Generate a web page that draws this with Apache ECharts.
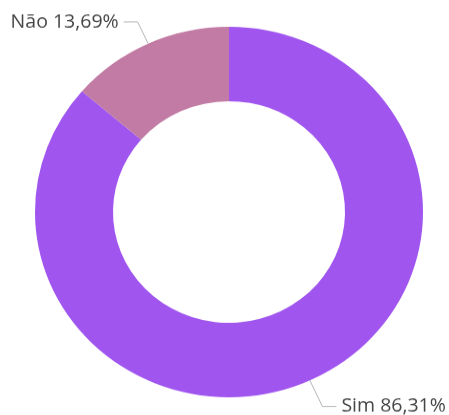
<!DOCTYPE html>
<html>
<head>
<meta charset="utf-8">
<script src="https://cdn.jsdelivr.net/npm/echarts@6/dist/echarts.min.js"></script>
<style>
  html, body { margin: 0; padding: 0; background: #ffffff; overflow: hidden; }
  #wrap { width: 449px; height: 415px; overflow: hidden; }
  /* the drawing is slightly flattened vertically */
  #chart { width: 449px; height: 435px; transform: scaleY(0.955); transform-origin: 0 0; }
</style>
</head>
<body>
<div id="wrap"><div id="chart"></div></div>
<script>
// Answer categories and their shares (%)
const categories = ['Sim', 'Não'];
const shares = [86.31, 13.69];
const sliceColors = ['#a056ee', '#c27ba4'];
const leaderLengths = [30, 25];

const fmt = v => v.toFixed(2).replace('.', ',') + '%';

const chart = echarts.init(document.getElementById('chart'), null, { renderer: 'canvas' });

chart.setOption({
  animation: false,
  series: [{
    type: 'pie',
    center: [229, 222],
    radius: [116, 194],
    startAngle: 90,
    clockwise: true,
    avoidLabelOverlap: false,
    data: categories.map((name, i) => ({
      name: name,
      value: shares[i],
      itemStyle: { color: sliceColors[i] },
      labelLine: { length: leaderLengths[i] }
    })),
    label: {
      show: true,
      position: 'outside',
      formatter: p => p.name + ' ' + fmt(p.value),
      fontFamily: '"Open Sans", "Noto Sans", sans-serif',
      fontSize: 19.5,
      color: '#454545',
      padding: [4, 0, 0, 0],
      distanceToLabelLine: 5
    },
    labelLine: {
      show: true,
      length2: 14,
      smooth: false,
      lineStyle: { color: '#b4b4b4', width: 1 }
    },
    emphasis: { disabled: true }
  }]
});
</script>
</body>
</html>
